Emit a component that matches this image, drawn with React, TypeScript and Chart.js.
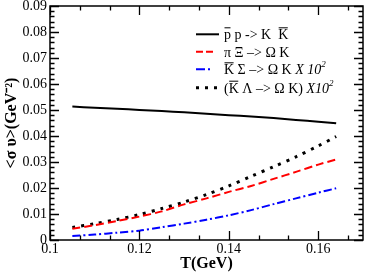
import React, { useEffect, useRef } from "react";
import { Chart, registerables } from "chart.js";

Chart.register(...registerables);

const temps = [0.105, 0.11, 0.115, 0.12, 0.125, 0.13, 0.135, 0.14, 0.145, 0.15, 0.155, 0.16, 0.164];
const ppKK = [0.0513, 0.0509, 0.0505, 0.05, 0.0496, 0.0491, 0.0486, 0.048, 0.0475, 0.0469, 0.0462, 0.0455, 0.0449];
const piXi = [0.0043, 0.0057, 0.0073, 0.009, 0.011, 0.0137, 0.016, 0.0185, 0.0208, 0.0235, 0.0262, 0.029, 0.031];
const kSigma = [0.0015, 0.0021, 0.0028, 0.0036, 0.0049, 0.0063, 0.0078, 0.0095, 0.0115, 0.0138, 0.016, 0.0182, 0.0199];
const kLambda = [0.0048, 0.0063, 0.0079, 0.0098, 0.0121, 0.0146, 0.0175, 0.0208, 0.0245, 0.0282, 0.032, 0.0362, 0.0398];

const xTickValues = [0.1, 0.12, 0.14, 0.16];
const xTickLabels = ["0.1", "0.12", "0.14", "0.16"];
const yTickValues = [0, 0.01, 0.02, 0.03, 0.04, 0.05, 0.06, 0.07, 0.08, 0.09];
const yTickLabels = ["0", "0.01", "0.02", "0.03", "0.04", "0.05", "0.06", "0.07", "0.08", "0.09"];

const SERIF = "'Liberation Serif', 'Times New Roman', serif";

type Seg = { t: string; bar?: boolean; italic?: boolean; sup?: boolean };
const legendRows: { segs: Seg[]; color: string; dash: number[]; width: number; len: number }[] = [
  { segs: [{ t: "p", bar: true }, { t: " p -> K  " }, { t: "K", bar: true }], color: "#000000", dash: [], width: 2, len: 23 },
  { segs: [{ t: "π Ξ –> Ω K" }], color: "#ff0000", dash: [7, 3], width: 2, len: 17 },
  { segs: [{ t: "K", bar: true }, { t: " Σ –> Ω K " }, { t: "X 10", italic: true }, { t: "2", italic: true, sup: true }], color: "#0000ff", dash: [9, 3, 2, 3], width: 2, len: 15 },
  { segs: [{ t: "(" }, { t: "K", bar: true }, { t: " Λ –> Ω K) " }, { t: "X10", italic: true }, { t: "2", italic: true, sup: true }], color: "#000000", dash: [3, 6], width: 3, len: 21 },
];

const framePlugin = {
  id: "framePlugin",
  afterDraw(chart: any) {
    const ctx = chart.ctx;
    const { left, right, top, bottom } = chart.chartArea;
    const xs = chart.scales.x;
    const ys = chart.scales.y;
    ctx.save();
    ctx.strokeStyle = "#000";
    ctx.lineWidth = 1.5;
    ctx.setLineDash([]);
    ctx.strokeRect(left, top, right - left, bottom - top);
    ctx.lineWidth = 1.3;
    ctx.beginPath();
    // x ticks
    for (let i = 0; i <= 21; i++) {
      const v = 0.1 + (i * 0.02) / 3;
      if (v > 0.1701) break;
      const px = Math.round(xs.getPixelForValue(v)) + 0.5;
      const major = i % 3 === 0;
      const len = major ? 9 : 4.5;
      ctx.moveTo(px, bottom);
      ctx.lineTo(px, bottom - len);
      ctx.moveTo(px, top);
      ctx.lineTo(px, top + len);
    }
    // y ticks
    for (let i = 0; i <= 45; i++) {
      const v = i * 0.002;
      const py = Math.round(ys.getPixelForValue(v)) + 0.5;
      const major = i % 5 === 0;
      const len = major ? 9 : 4.5;
      ctx.moveTo(left, py);
      ctx.lineTo(left + len, py);
      ctx.moveTo(right, py);
      ctx.lineTo(right - len, py);
    }
    ctx.stroke();

    // legend
    const sampleX = 196;
    const textX = 224;
    const baselines = [39.3, 56.7, 74.3, 92.7];
    legendRows.forEach((row, i) => {
      const base = baselines[i];
      const midY = base - 5;
      ctx.save();
      ctx.strokeStyle = row.color;
      ctx.lineWidth = row.width;
      ctx.lineCap = "butt";
      ctx.setLineDash(row.dash);
      ctx.beginPath();
      ctx.moveTo(sampleX, midY);
      ctx.lineTo(sampleX + row.len, midY);
      ctx.stroke();
      ctx.restore();

      let x = textX;
      ctx.fillStyle = "#000";
      ctx.textBaseline = "alphabetic";
      ctx.textAlign = "left";
      row.segs.forEach((s) => {
        const size = s.sup ? 9 : 14;
        ctx.font = `${s.italic ? "italic " : ""}${size}px ${SERIF}`;
        const y = s.sup ? base - 7 : base;
        ctx.fillText(s.t, x, y);
        const w = ctx.measureText(s.t).width;
        if (s.bar) {
          ctx.save();
          ctx.strokeStyle = "#000";
          ctx.lineWidth = 1;
          ctx.setLineDash([]);
          ctx.beginPath();
          ctx.moveTo(x + 0.5, base - 11.5);
          ctx.lineTo(x + w - 0.5, base - 11.5);
          ctx.stroke();
          ctx.restore();
        }
        x += w;
      });
    });
    ctx.restore();
  },
};

export default function App() {
  const ref = useRef<HTMLCanvasElement | null>(null);
  useEffect(() => {
    if (!ref.current) return;
    const mk = (arr: number[]) => temps.map((t, i) => ({ x: t, y: arr[i] }));
    const chart = new Chart(ref.current, {
      type: "line",
      data: {
        datasets: [
          { label: "pp->KK", data: mk(ppKK), borderColor: "#000000", borderWidth: 2, pointRadius: 0, tension: 0.3, fill: false },
          { label: "piXi", data: mk(piXi), borderColor: "#ff0000", borderWidth: 2, borderDash: [8, 4], pointRadius: 0, tension: 0.3, fill: false },
          { label: "KSigma", data: mk(kSigma), borderColor: "#0000ff", borderWidth: 2, borderDash: [8, 3, 2, 3], pointRadius: 0, tension: 0.3, fill: false },
          { label: "KLambda", data: mk(kLambda), borderColor: "#000000", borderWidth: 3, borderDash: [3, 6], borderCapStyle: "butt", pointRadius: 0, tension: 0.3, fill: false },
        ],
      },
      options: {
        responsive: false,
        animation: false,
        layout: { padding: { top: 6, right: 3, left: 0, bottom: 0 } },
        plugins: { legend: { display: false }, tooltip: { enabled: false } },
        scales: {
          x: {
            type: "linear",
            min: 0.1,
            max: 0.17,
            grid: { display: false, drawTicks: false },
            border: { display: false },
            afterBuildTicks: (s: any) => {
              s.ticks = xTickValues.map((v) => ({ value: v }));
            },
            afterFit: (s: any) => {
              s.height = 33;
              s.paddingLeft = 0;
              s.paddingRight = 0;
            },
            ticks: {
              padding: 1,
              color: "#000",
              maxRotation: 0,
              autoSkip: false,
              font: { family: SERIF, size: 14 },
              callback: (v: any) => {
                const i = xTickValues.findIndex((t) => Math.abs(t - v) < 1e-9);
                return i >= 0 ? xTickLabels[i] : "";
              },
            },
            title: {
              display: true,
              text: "T(GeV)",
              color: "#000",
              padding: { top: 0, bottom: 0 },
              font: { family: SERIF, size: 16, weight: "bold" },
            },
          },
          y: {
            type: "linear",
            min: 0,
            max: 0.09,
            grid: { display: false, drawTicks: false },
            border: { display: false },
            afterBuildTicks: (s: any) => {
              s.ticks = yTickValues.map((v) => ({ value: v }));
            },
            afterFit: (s: any) => {
              s.width = 50;
              s.paddingTop = 0;
              s.paddingBottom = 0;
            },
            ticks: {
              padding: 3,
              color: "#000",
              autoSkip: false,
              font: { family: SERIF, size: 14 },
              callback: (v: any) => {
                const i = yTickValues.findIndex((t) => Math.abs(t - v) < 1e-9);
                return i >= 0 ? yTickLabels[i] : "";
              },
            },
            title: {
              display: true,
              text: "<σ υ>(GeV⁻²)",
              color: "#000",
              padding: { top: 2, bottom: 0 },
              font: { family: SERIF, size: 16, weight: "bold" },
            },
          },
        },
      },
      plugins: [framePlugin],
    } as any);
    return () => chart.destroy();
  }, []);
  return (
    <div style={{ position: "absolute", left: 0, top: 0, width: 366, height: 273, background: "#fff" }}>
      <canvas ref={ref} width={366} height={273} style={{ display: "block", width: 366, height: 273 }} />
    </div>
  );
}
